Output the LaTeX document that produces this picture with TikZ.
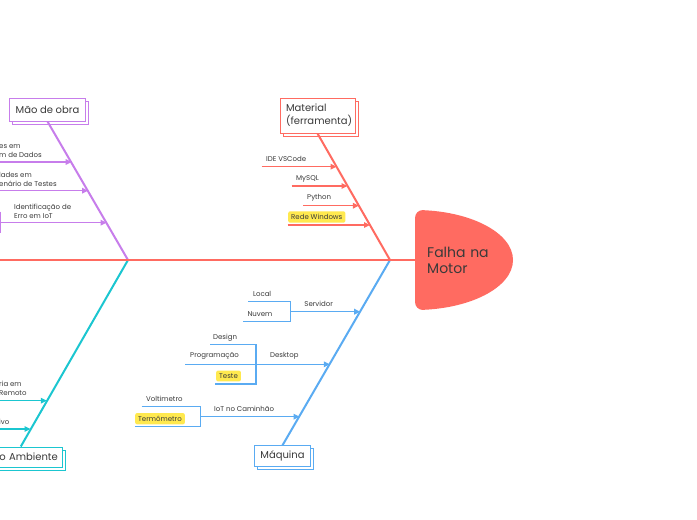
\documentclass[tikz,border=0pt]{standalone}
\usepackage{fontspec}
\setmainfont{Poppins}
\usetikzlibrary{positioning, calc, arrows.meta, shadows}

\definecolor{fishRed}{HTML}{FF6B61}
\definecolor{fishPurple}{HTML}{C77DEB}
\definecolor{fishCyan}{HTML}{1BC6D0}
\definecolor{fishBlue}{HTML}{5AABF2}
\definecolor{hiYellow}{HTML}{FFE94F}
\definecolor{txtGray}{HTML}{3A3A3A}

\begin{document}
\begin{tikzpicture}[
  x=1pt, y=-1pt,
  >={Triangle[length=6pt, width=5.5pt]},
  catNode/.style  ={rectangle, draw=#1, line width=1pt, fill=white, text=txtGray, font=\fontsize{10}{13}\selectfont, align=left, inner xsep=6pt,
                    copy shadow={shadow xshift=3pt, shadow yshift=-3pt, draw=#1, fill=white, line width=1pt}},
  headNode/.style ={rectangle, minimum width=98pt, minimum height=100pt, text width=74pt, inner xsep=12pt, align=left, text=txtGray, font=\fontsize{14}{16}\selectfont},
  subLabel/.style ={inner sep=0pt, anchor=west, align=left, text=txtGray, font=\fontsize{7}{9}\selectfont},
  hiLabel/.style  ={subLabel, fill=hiYellow, rounded corners=2pt, inner xsep=3pt, inner ysep=3pt},
  spine/.style    ={line width=2.6pt, fishRed},
  bone/.style     ={line width=2pt, #1},
  subArrow/.style ={->, line width=1.5pt, #1},
  subLine/.style  ={line width=1.5pt, #1}
]

\useasboundingbox (0,0) rectangle (697,520);
\fill[white] (0,0) rectangle (697,520);
\clip (0,0) rectangle (697,520);

% ================== SPINE + HEAD ==================
\coordinate (tail) at (0,260);
\coordinate (JL) at (128,260);
\coordinate (JR) at (390,260);
\coordinate (headW) at (415,260);

\begin{scope}
  \clip[rounded corners=8pt] ($(headW)+(0,-50)$) rectangle ($(headW)+(100,50)$);
  \fill[fishRed] (headW) ellipse [x radius=98, y radius=50];
\end{scope}
\node[headNode, right=0pt of headW] (HEAD) {Falha na\\Motor};

% ================== CATEGORY BOXES ==================
\node[catNode=fishPurple, minimum width=75pt, minimum height=23pt, align=center] (MAO) at (47.5,109.5) {Mão de obra};
\node[catNode=fishRed, minimum width=75pt, minimum height=35pt, text width=63pt] (MAT) at (317.5,115.5) {Material\\(ferramenta)};
\node[catNode=fishBlue, minimum width=55pt, minimum height=21pt, align=center] (MAQ) at (282.5,456.3) {Máquina};
\node[catNode=fishCyan, minimum height=20pt, text width=74pt, inner xsep=5pt, align=right] (AMB) at (20.8,457) {o Ambiente};

% bones
\draw[bone=fishPurple] (MAO.south) -- (JL);
\draw[bone=fishCyan] (JL) -- (AMB.north);
\draw[bone=fishRed] (MAT.south) -- (JR);
\draw[bone=fishBlue] (JR) -- (MAQ.north);

\draw[spine] (tail) -- (HEAD.west);

% ================== MAO DE OBRA ==================
\coordinate (mo1s) at (0,162);     \coordinate (mo1e) at (71.6,162);
\coordinate (mo2s) at (0,190.7);   \coordinate (mo2e) at (88.1,190.7);
\coordinate (mo3s) at (0.6,222.7); \coordinate (mo3e) at (106.5,222.7);
\coordinate (mo3t) at (0.6,211.7); \coordinate (mo3b) at (0.6,232.7);

\draw[subArrow=fishPurple] (mo1s) -- (mo1e);
\draw[subArrow=fishPurple] (mo2s) -- (mo2e);
\draw[subLine=fishPurple] (mo3t) -- (mo3b);
\draw[subArrow=fishPurple] (mo3s) -- (mo3e);

\node[subLabel] (moL1) at ($(mo1s)+(-1,-11)$) {es em\\m de Dados};
\node[subLabel] (moL2) at ($(mo2s)+(-1,-11)$) {lades em\\enário de Testes};
\node[subLabel] (moL3) at ($(mo3s)+(13.4,-11)$) {Identificação de\\Erro em IoT};

% ================== MEIO AMBIENTE ==================
\coordinate (am1s) at (0,400.7); \coordinate (am1e) at (46.8,400.7);
\coordinate (am2s) at (0,429);   \coordinate (am2e) at (30.5,429);

\draw[subArrow=fishCyan] (am1s) -- (am1e);
\draw[subArrow=fishCyan] (am2s) -- (am2e);

\node[subLabel] (amL1) at ($(am1s)+(-1,-12)$) {ria em\\Remoto};
\node[subLabel] (amL2) at ($(am2s)+(-1,-7.5)$) {ivo};

% ================== MATERIAL ==================
\coordinate (mt1s) at (261.7,166.7); \coordinate (mt1e) at (336.5,166.7);
\coordinate (mt2s) at (291.7,186);   \coordinate (mt2e) at (347.5,186);
\coordinate (mt3s) at (303,205.7);   \coordinate (mt3e) at (358.9,205.7);
\coordinate (mt4s) at (287.7,225);   \coordinate (mt4e) at (370,225);

\draw[subArrow=fishRed] (mt1s) -- (mt1e);
\draw[subArrow=fishRed] (mt2s) -- (mt2e);
\draw[subArrow=fishRed] (mt3s) -- (mt3e);
\draw[subArrow=fishRed] (mt4s) -- (mt4e);

\node[subLabel] (mtL1) at ($(mt1s)+(4.3,-7.5)$) {IDE VSCode};
\node[subLabel] (mtL2) at ($(mt2s)+(4.3,-7.5)$) {MySQL};
\node[subLabel] (mtL3) at ($(mt3s)+(4,-7.5)$) {Python};
\node[hiLabel]  (mtL4) at ($(mt4s)+(0.3,-8)$) {Rede Windows};

% ================== MAQUINA ==================
% Servidor
\coordinate (svLoc) at (248.3,301.7); \coordinate (svTop) at (290.7,301.7);
\coordinate (svNuv) at (243.3,321.7); \coordinate (svBot) at (290.7,321.7);
\coordinate (svMid) at (290.7,311.7); \coordinate (svEnd) at (360.2,311.7);

\draw[subLine=fishBlue] (svLoc) -- (svTop) -- (svBot) -- (svNuv);
\draw[subArrow=fishBlue] (svMid) -- (svEnd);

\node[subLabel] (svL1) at ($(svLoc)+(4.5,-7.5)$) {Local};
\node[subLabel] (svL2) at ($(svNuv)+(4,-7.5)$) {Nuvem};
\node[subLabel] (svL0) at ($(svMid)+(13.5,-7.5)$) {Servidor};

% Desktop
\coordinate (dkDes) at (210,344.3); \coordinate (dkTop) at (256,344.3);
\coordinate (dkTes) at (215,384);   \coordinate (dkBot) at (256,384);
\coordinate (dkPrg) at (185,364.3); \coordinate (dkMid) at (256,364.3);
\coordinate (dkEnd) at (329.8,364.3);

\draw[subLine=fishBlue] (dkDes) -- (dkTop) -- (dkBot) -- (dkTes);
\draw[subLine=fishBlue] (dkPrg) -- (dkMid);
\draw[subArrow=fishBlue] (dkMid) -- (dkEnd);

\node[subLabel] (dkL1) at ($(dkDes)+(3,-7)$) {Design};
\node[subLabel] (dkL2) at ($(dkPrg)+(5,-8)$) {Programação};
\node[hiLabel]  (dkL3) at ($(dkTes)+(1,-8)$) {Teste};
\node[subLabel] (dkL0) at ($(dkMid)+(14,-8)$) {Desktop};

% IoT no Caminhao
\coordinate (itVol) at (141.7,406.7); \coordinate (itTop) at (200.7,406.7);
\coordinate (itTer) at (135,426.7);   \coordinate (itBot) at (200.7,426.7);
\coordinate (itMid) at (200.7,416.7); \coordinate (itEnd) at (299.6,416.7);

\draw[subLine=fishBlue] (itVol) -- (itTop) -- (itBot) -- (itTer);
\draw[subArrow=fishBlue] (itMid) -- (itEnd);

\node[subLabel] (itL1) at ($(itVol)+(4.3,-7.7)$) {Voltimetro};
\node[hiLabel]  (itL2) at ($(itTer)+(0,-8)$) {Termômetro};
\node[subLabel] (itL0) at ($(itMid)+(13.3,-7.7)$) {IoT no Caminhão};

\end{tikzpicture}
\end{document}
